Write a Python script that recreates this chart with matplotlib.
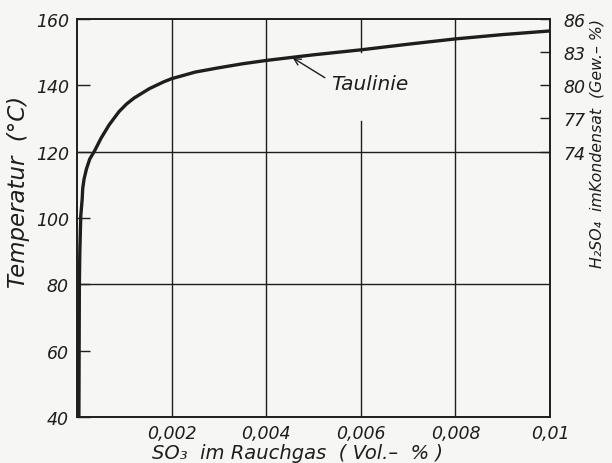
import matplotlib.pyplot as plt
import numpy as np

# Taulinie: SO3 im Rauchgas (Vol.-%) gegen Temperatur (°C)
so3 = [0.00004, 0.00005, 0.00006, 0.00008, 0.00011, 0.00012, 0.00015, 0.0002,
       0.00027, 0.00037, 0.00051, 0.00068, 0.00089, 0.00105, 0.00121, 0.00153,
       0.00184, 0.002, 0.0025, 0.003, 0.0035, 0.004, 0.005, 0.006, 0.007,
       0.008, 0.009, 0.01]
temp = [40, 80, 90, 100.7, 105.8, 108.8, 111.8, 114.8,
        117.8, 120.2, 124.1, 128.1, 132.1, 134.4, 136.2, 139.0,
        141.1, 142.0, 144.0, 145.3, 146.5, 147.5, 149.2, 150.7, 152.4,
        154.0, 155.3, 156.4]

xticks = [0.002, 0.004, 0.006, 0.008, 0.01]
xlabels = ['0,002', '0,004', '0,006', '0,008', '0,01']
yticks = [40, 60, 80, 100, 120, 140, 160]
h2so4_ticks = [74, 77, 80, 83, 86]

ink = '#1e1e1e'
bg = '#f6f6f4'
font = dict(family='DejaVu Sans', style='italic', color=ink)

fig = plt.figure(figsize=(6.12, 4.64), dpi=100, facecolor=bg)
ax = fig.add_axes([77 / 612, 1 - 418 / 464, 473 / 612, 398 / 464])
ax.set_facecolor(bg)

ax.set_xlim(0, 0.01)
ax.set_ylim(40, 160)

# Gitterlinien (bei 0,006 fuer die Beschriftung unterbrochen)
for x in [0.002, 0.004, 0.008]:
    ax.axvline(x, color=ink, lw=1.0, zorder=1)
ax.axvline(0.006, 0, (129.3 - 40) / 120, color=ink, lw=1.0, zorder=1)
ax.axvline(0.006, (150.1 - 40) / 120, 1, color=ink, lw=1.0, zorder=1)
for y in [80, 120]:
    ax.axhline(y, color=ink, lw=1.0, zorder=1)

ax.plot(so3, temp, color=ink, lw=2.4, zorder=3,
        solid_capstyle='round', solid_joinstyle='round')

ax.annotate('', xy=(0.00456, 148.3), xytext=(0.00524, 142.3),
            arrowprops=dict(arrowstyle='->', color=ink, lw=1.0,
                            mutation_scale=12, shrinkA=0, shrinkB=0), zorder=4)
ax.text(0.00538, 140.5, 'Taulinie', fontsize=14.5, va='center', ha='left', **font)

ax.set_xticks(xticks)
ax.set_xticklabels(xlabels, fontsize=12.5, **font)
ax.set_yticks(yticks)
ax.set_yticklabels([str(v) for v in yticks], fontsize=12.5, **font)
ax.tick_params(axis='x', length=0, pad=5)
ax.tick_params(axis='y', direction='in', length=9, width=1.0, color=ink, pad=6)

for s in ax.spines.values():
    s.set_color(ink)
    s.set_linewidth(1.4)

# zweite Achse: H2SO4 im Kondensat
ax2 = ax.twinx()
ax2.set_ylim(74 - 0.3 * 80, 86)
ax2.set_yticks(h2so4_ticks)
ax2.set_yticklabels([str(v) for v in h2so4_ticks], fontsize=12.5, **font)
ax2.tick_params(axis='y', direction='in', length=7, width=1.0, color=ink, pad=10)
for s in ax2.spines.values():
    s.set_visible(False)

fig.text(19 / 612, 1 - 192 / 464, 'Temperatur  (°C)', rotation=90,
         fontsize=16.5, ha='center', va='center', **font)
fig.text(597 / 612, 1 - 143 / 464, 'H₂SO₄  imKondensat  (Gew.– %)', rotation=90,
         fontsize=11.3, ha='center', va='center', **font)
fig.text(298 / 612, 1 - 454 / 464, 'SO₃  im Rauchgas  ( Vol.–  % )',
         fontsize=14, ha='center', va='center', **font)

fig.savefig('out.png', dpi=100, facecolor=bg)
